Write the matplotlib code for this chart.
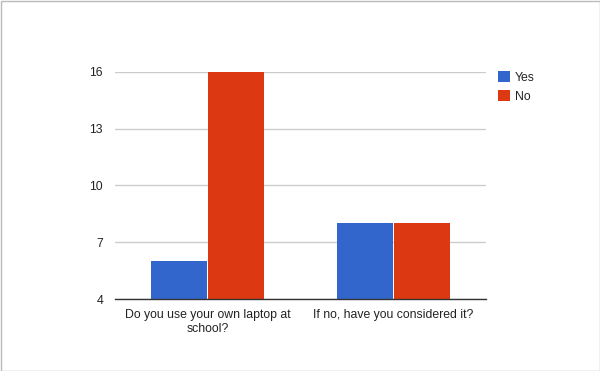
import numpy as np
import matplotlib.pyplot as plt
from matplotlib.patches import Rectangle

categories = ["Do you use your own laptop at\nschool?", "If no, have you considered it?"]
yes_counts = [6, 8]
no_counts = [16, 8]
series_names = ["Yes", "No"]
y_ticks = [4, 7, 10, 13, 16]

plt.rcParams['font.family'] = ['Liberation Sans', 'DejaVu Sans']
fs = 8.8

fig = plt.figure(figsize=(6, 3.71), dpi=100)
ax = fig.add_axes([115 / 600, 1 - 299 / 371, 371 / 600, 227.3 / 371])

x = np.arange(len(categories))
w = 0.302
b1 = ax.bar(x - w / 2 - 0.002, np.array(yes_counts) - 4, w, bottom=4, color="#3366CC", zorder=3)
b2 = ax.bar(x + w / 2 + 0.002, np.array(no_counts) - 4, w, bottom=4, color="#DC3912", zorder=3)

ax.set_xlim(-0.5, 1.5)
ax.set_ylim(4, 16)
ax.set_yticks(y_ticks)
ax.set_xticks(x)
ax.set_xticklabels(categories)
ax.tick_params(axis="both", length=0, labelsize=fs, colors="#222222")
ax.tick_params(axis="y", pad=8.6)
ax.tick_params(axis="x", pad=7)
ax.grid(axis="y", color="#CCCCCC", linewidth=1, zorder=0)
for side in ["top", "right", "left"]:
    ax.spines[side].set_visible(False)
ax.spines["bottom"].set_color("#333333")
ax.spines["bottom"].set_linewidth(1)
ax.spines["bottom"].set_zorder(4)

ax.legend([b1, b2], series_names, loc="upper left", bbox_to_anchor=(498 / 600, 1 - 71 / 371),
          bbox_transform=fig.transFigure, frameon=False, fontsize=fs,
          handlelength=0.98, handleheight=0.98, handletextpad=0.4, labelspacing=0.55,
          borderpad=0, borderaxespad=0, labelcolor="#222222")

fig.patches.append(Rectangle((0.5 / 600, 0.5 / 371), 599 / 600, 370 / 371, transform=fig.transFigure,
                             fill=False, edgecolor="#BBBBBB", linewidth=1))

fig.savefig("out.png", dpi=100)
